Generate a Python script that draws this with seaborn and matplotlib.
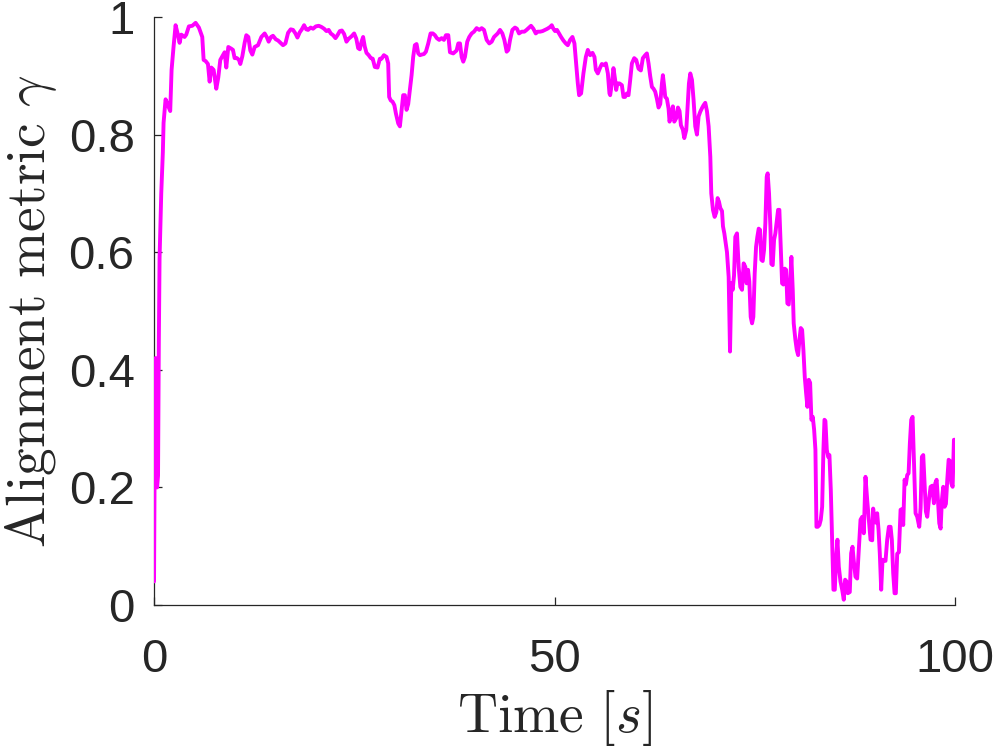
import matplotlib
matplotlib.use("Agg")
import matplotlib.pyplot as plt
import seaborn as sns
import pandas as pd

# ---- data ----
time_s = [
    0.0, 0.1, 0.19, 0.28, 0.38, 0.5, 0.6, 0.69, 0.9, 1.1, 1.19, 1.44, 1.6, 1.73, 2.02, 2.19, 2.44, 2.69,
    2.98, 3.19, 3.4, 3.81, 4.02, 4.35, 4.77, 5.19, 5.6, 6.02, 6.19, 6.44, 6.73, 6.94, 7.15, 7.44, 7.77,
    8.02, 8.27, 8.52, 8.81, 9.02, 9.27, 9.65, 9.85, 10.06, 10.35, 10.6, 10.77, 11.02, 11.31, 11.52, 11.77,
    12.02, 12.27, 12.56, 12.98, 13.4, 13.81,
    14.1, 14.31, 14.6, 14.85, 15.2, 15.48, 15.8, 16.1, 16.4, 16.73, 17.06, 17.35, 17.65, 17.9, 18.19,
    18.45, 18.73, 19.0, 19.23, 19.55, 19.85, 20.2, 20.56, 20.9, 21.23, 21.52, 21.8, 22.06, 22.35, 22.65,
    22.9, 23.19, 23.45, 23.73, 24.02, 24.3, 24.65, 24.98, 25.25, 25.48, 25.69, 25.9, 26.1, 26.3, 26.52,
    26.8, 27.06, 27.3, 27.56, 27.9, 28.19,
    28.4, 28.69, 29.02, 29.23, 29.35, 29.55, 29.77, 30.0, 30.19, 30.48, 30.69, 30.9, 31.1, 31.31, 31.52,
    31.73, 31.94, 32.15, 32.35, 32.56, 32.77, 32.98, 33.2, 33.4, 33.7, 33.94, 34.23, 34.52, 34.8, 35.06,
    35.3, 35.6, 35.9, 36.19, 36.44, 36.73, 36.94, 37.35, 37.77, 37.98, 38.19, 38.4, 38.6, 38.81, 39.1,
    39.35, 39.65, 39.94, 40.27, 40.6, 40.9, 41.19, 41.52, 41.85, 42.15, 42.44,
    42.9, 43.19, 43.48, 43.73, 44.02, 44.23, 44.44, 44.73, 45.06, 45.3, 45.56, 45.9, 46.23, 46.5, 46.81,
    47.06, 47.35, 47.65, 47.9, 48.19, 48.5, 48.81, 49.1, 49.44, 49.65, 49.85, 50.06, 50.3, 50.56, 50.81,
    51.1, 51.4, 51.65, 51.94, 52.23, 52.48, 52.65, 52.9, 53.06, 53.31, 53.6, 53.9, 54.15, 54.44, 54.73,
    54.98, 55.15, 55.4, 55.69, 55.9, 56.23, 56.4, 56.65, 56.85,
    56.94, 57.15, 57.35, 57.56, 57.69, 57.85, 58.1, 58.4, 58.6, 58.8, 59.02, 59.23, 59.44, 59.65, 59.94,
    60.19, 60.48, 60.77, 61.02, 61.31, 61.52, 61.73, 61.94, 62.15, 62.35, 62.56, 62.77, 62.98, 63.19,
    63.4, 63.52, 63.69, 63.81, 64.02, 64.23, 64.35, 64.56, 64.77, 64.94, 65.19, 65.4, 65.6, 65.77, 66.02,
    66.19, 66.44, 66.6, 66.77, 66.94, 67.15, 67.35, 67.56, 67.77, 67.98, 68.19, 68.4, 68.6, 68.81, 69.02,
    69.23, 69.44, 69.56, 69.77, 69.98, 70.19, 70.35, 70.52, 70.69, 70.9, 71.02, 71.19,
    71.31, 71.52, 71.73, 71.9, 72.06, 72.23, 72.4, 72.56, 72.77, 72.98, 73.19, 73.4, 73.6, 73.81, 73.98,
    74.15, 74.31, 74.48, 74.65, 74.81, 74.98, 75.15, 75.31, 75.48, 75.65, 75.81, 75.98, 76.15, 76.31,
    76.48, 76.6, 76.77, 76.94, 77.06, 77.23, 77.4, 77.56, 77.73, 77.9, 78.06, 78.23, 78.4, 78.56, 78.73,
    78.9, 79.06, 79.23, 79.4, 79.56, 79.73, 79.85, 80.06, 80.23, 80.4, 80.56, 80.73, 80.9, 81.06, 81.23,
    81.4, 81.56, 81.73, 81.9, 82.06, 82.23, 82.4, 82.56, 82.69, 82.85, 83.06, 83.23, 83.4, 83.56, 83.69,
    83.81, 83.98, 84.15, 84.31, 84.48, 84.65, 84.81, 84.98, 85.15, 85.31, 85.48, 85.69, 85.9, 86.1,
    86.27, 86.44, 86.6, 86.85, 87.02, 87.19, 87.35, 87.56, 87.77, 87.98, 88.19, 88.4, 88.6, 88.81, 89.02,
    89.23, 89.44, 89.65, 89.77, 89.94, 90.1, 90.27, 90.44, 90.6, 90.77, 90.94, 91.1, 91.31, 91.52, 91.73,
    91.94, 92.1, 92.27, 92.44, 92.6, 92.77, 92.98, 93.19, 93.35, 93.52, 93.69, 93.85, 94.02, 94.19, 94.35,
    94.52, 94.69, 94.85, 95.06, 95.27, 95.52, 95.69, 95.85, 96.02, 96.19, 96.35, 96.52, 96.73, 96.94,
    97.15, 97.35, 97.52, 97.69, 97.85, 98.02, 98.19, 98.35, 98.52, 98.69, 98.85, 99.02, 99.19, 99.35,
    99.52, 99.69, 99.85, 100.0,
]

alignment = [
    0.04, 0.30, 0.42, 0.30, 0.20, 0.22, 0.45, 0.59, 0.70, 0.77, 0.82, 0.86, 0.855, 0.85, 0.84, 0.91, 0.95, 0.986,
    0.97, 0.956, 0.97, 0.966, 0.97, 0.984, 0.985, 0.99, 0.982, 0.966, 0.927, 0.925, 0.92, 0.89, 0.914, 0.91, 0.878,
    0.897, 0.927, 0.933, 0.94, 0.914, 0.949, 0.946, 0.944, 0.93, 0.93, 0.927, 0.92, 0.933, 0.956, 0.969, 0.966,
    0.943, 0.936, 0.949, 0.952, 0.966, 0.972,
    0.965, 0.958, 0.966, 0.968, 0.962, 0.960, 0.956, 0.952, 0.955, 0.973, 0.979, 0.978, 0.972, 0.965, 0.974,
    0.979, 0.986, 0.979, 0.978, 0.982, 0.980, 0.984, 0.985, 0.983, 0.980, 0.976, 0.978, 0.972, 0.969, 0.964,
    0.969, 0.976, 0.977, 0.971, 0.958, 0.963, 0.967, 0.972, 0.963, 0.947, 0.945, 0.958, 0.966, 0.950, 0.939,
    0.935, 0.930, 0.929, 0.915, 0.914, 0.929,
    0.929, 0.935, 0.932, 0.921, 0.864, 0.858, 0.856, 0.850, 0.836, 0.819, 0.814, 0.842, 0.867, 0.867, 0.842,
    0.852, 0.876, 0.901, 0.932, 0.952, 0.954, 0.938, 0.935, 0.936, 0.937, 0.941, 0.955, 0.972, 0.972, 0.969,
    0.964, 0.961, 0.964, 0.961, 0.969, 0.969, 0.940, 0.938, 0.943, 0.955, 0.955, 0.932, 0.924, 0.932, 0.958,
    0.966, 0.972, 0.975, 0.981, 0.978, 0.981, 0.978, 0.961, 0.955, 0.958, 0.966,
    0.972, 0.978, 0.972, 0.961, 0.941, 0.944, 0.961, 0.978, 0.982, 0.980, 0.972, 0.975, 0.975, 0.978, 0.982,
    0.985, 0.980, 0.972, 0.975, 0.975, 0.976, 0.978, 0.980, 0.983, 0.986, 0.980, 0.976, 0.978, 0.972, 0.966,
    0.960, 0.955, 0.952, 0.961, 0.966, 0.955, 0.927, 0.887, 0.867, 0.870, 0.904, 0.932, 0.944, 0.935, 0.939,
    0.932, 0.910, 0.904, 0.914, 0.920, 0.918, 0.921, 0.904, 0.870,
    0.867, 0.887, 0.913, 0.893, 0.876, 0.887, 0.887, 0.884, 0.864, 0.864, 0.870, 0.867, 0.893, 0.921, 0.930,
    0.927, 0.912, 0.909, 0.930, 0.935, 0.938, 0.921, 0.899, 0.881, 0.878, 0.873, 0.861, 0.846, 0.852,
    0.887, 0.901, 0.881, 0.864, 0.861, 0.844, 0.822, 0.836, 0.848, 0.822, 0.828, 0.846, 0.840, 0.816, 0.808,
    0.794, 0.808, 0.847, 0.887, 0.904, 0.893, 0.859, 0.814, 0.800, 0.831, 0.839, 0.845, 0.850, 0.854, 0.840,
    0.814, 0.762, 0.700, 0.672, 0.660, 0.668, 0.692, 0.686, 0.675, 0.670, 0.644, 0.632,
    0.620, 0.600, 0.558, 0.431, 0.547, 0.536, 0.560, 0.626, 0.632, 0.575, 0.541, 0.536, 0.581, 0.575, 0.547,
    0.570, 0.550, 0.490, 0.479, 0.490, 0.564, 0.609, 0.626, 0.640, 0.638, 0.587, 0.585, 0.604, 0.649,
    0.728, 0.734, 0.700, 0.643, 0.580, 0.578, 0.621, 0.632, 0.652, 0.672, 0.672, 0.609, 0.547, 0.545, 0.572,
    0.570, 0.513, 0.511, 0.547, 0.592, 0.536, 0.479, 0.451, 0.434, 0.425, 0.450, 0.471, 0.468, 0.434, 0.388,
    0.360, 0.337, 0.383, 0.378, 0.315, 0.320, 0.298, 0.264, 0.133, 0.133, 0.136, 0.145, 0.167, 0.264, 0.315,
    0.313, 0.264, 0.252, 0.255, 0.196, 0.105, 0.026, 0.026, 0.082, 0.111, 0.065, 0.040, 0.026, 0.009,
    0.043, 0.040, 0.020, 0.022, 0.088, 0.099, 0.075, 0.048, 0.045, 0.094, 0.145, 0.150, 0.122, 0.218, 0.179,
    0.145, 0.111, 0.110, 0.164, 0.145, 0.140, 0.156, 0.128, 0.087, 0.026, 0.077, 0.076, 0.075, 0.111, 0.133,
    0.133, 0.111, 0.054, 0.020, 0.020, 0.087, 0.090, 0.162, 0.163, 0.136, 0.213, 0.205, 0.221, 0.224, 0.275,
    0.315, 0.320, 0.247, 0.156, 0.150, 0.133, 0.165, 0.252, 0.255, 0.207, 0.159, 0.150, 0.179, 0.201,
    0.203, 0.173, 0.207, 0.213, 0.180, 0.139, 0.130, 0.179, 0.201, 0.167, 0.172, 0.213, 0.247, 0.245,
    0.207, 0.201, 0.281, 0.281,
]

x_ticks = [0, 50, 100]
x_tick_labels = ["0", "50", "100"]
y_ticks = [0, 0.2, 0.4, 0.6, 0.8, 1.0]
y_tick_labels = ["0", "0.2", "0.4", "0.6", "0.8", "1"]

df = pd.DataFrame({"time": time_s, "gamma": alignment})

sns.set_style("ticks")
plt.rcParams["font.family"] = ["Liberation Sans", "DejaVu Sans"]
plt.rcParams["mathtext.fontset"] = "cm"

ink = "#262626"
fig = plt.figure(figsize=(9.97, 7.51), dpi=100)
ax = fig.add_axes([0.1545, 0.1944, 0.8035, 0.7830])

sns.lineplot(data=df, x="time", y="gamma", ax=ax, color="#FF00FF",
             linewidth=2.8, sort=False, estimator=None, zorder=3)

ax.set_xlim(0, 100)
ax.set_ylim(0, 1)
ax.set_xticks(x_ticks)
ax.set_xticklabels(x_tick_labels)
ax.set_yticks(y_ticks)
ax.set_yticklabels(y_tick_labels)

for side in ["top", "right"]:
    ax.spines[side].set_visible(False)
for side in ["left", "bottom"]:
    ax.spines[side].set_color(ink)
    ax.spines[side].set_linewidth(0.9)

ax.tick_params(axis="both", direction="in", length=6, width=0.9, color=ink,
               labelsize=34, labelcolor=ink)
ax.tick_params(axis="x", pad=24)
ax.tick_params(axis="y", pad=14)

ax.set_xlabel(r"$\mathrm{Time}\ [s]$", fontsize=40, color=ink, labelpad=4)
ax.set_ylabel(r"$\mathrm{Alignment\ metric}\ \gamma$", fontsize=40, color=ink, labelpad=7)

fig.savefig("out.png", dpi=100, facecolor="white")
